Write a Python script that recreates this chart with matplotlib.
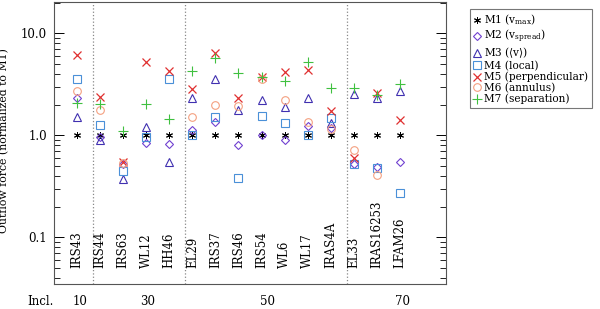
import numpy as np
import matplotlib as mpl
mpl.use('Agg')
import matplotlib.pyplot as plt
import matplotlib.transforms as mtransforms

#
#--- source names and inclination groups
#
sources = ['IRS43', 'IRS44', 'IRS63', 'WL12', 'HH46', 'EL29', 'IRS37', 'IRS46',
           'IRS54', 'WL6', 'WL17', 'IRAS4A', 'EL33', 'IRAS16253', 'LFAM26']
incl_labels = ['10', '30', '50', '70']
incl_pos    = [1.13, 4.08, 9.24, 15.13]
group_bounds = [1.68, 5.69, 12.69]

nan = np.nan
#
#--- outflow force normalized to M1
#
m1 = [1.0] * 15
m2 = [2.34, 0.96, 0.53, 0.84, 0.82, 1.14, 1.34, 0.80, 1.00, 0.91, 1.24, 1.19, 0.53, 0.49, 0.55]
m3 = [1.50, 0.90, 0.37, 1.20, 0.55, 2.34, 3.56, 1.77, 2.22, 1.91, 2.34, 1.33, 2.52, 2.31, 2.72]
m4 = [3.56, 1.26, 0.45, 0.97, 3.56, 1.02, 1.52, 0.38, 1.55, 1.31, 1.00, 1.49, 0.52, 0.48, 0.27]
m5 = [6.10, 2.39, 0.55, 5.27, 4.30, 2.83, 6.37, 2.31, 3.70, 4.20, 4.37, 1.73, 0.60, 2.58, 1.43]
m6 = [2.70, 1.77, 0.54, nan, nan, 1.52, 1.97, 1.94, 3.60, 2.22, 1.36, 1.15, 0.72, 0.41, nan]
m7 = [2.09, 2.03, 1.11, 2.03, 1.45, 4.27, 5.69, 4.11, 3.70, 3.40, 5.27, 2.89, 2.89, 2.50, 3.18]

labels = [r'M1 (v$_{\rm max}$)', r'M2 (v$_{\rm spread}$)', r'M3 ($\langle$v$\rangle$)',
          'M4 (local)', 'M5 (perpendicular)', 'M6 (annulus)', 'M7 (separation)']

plt.rcParams['font.family'] = 'DejaVu Serif'
plt.rcParams['mathtext.fontset'] = 'dejavuserif'
plt.rcParams['font.size'] = 8

fig = plt.figure(figsize=(6.0, 3.09), dpi=100)
ax = fig.add_axes([54/600, 1 - 284/309, 392/600, 282/309])

x = np.arange(1, len(sources) + 1)
#
#--- marker styles for each method
#
styles = [
    dict(marker=(6, 2, 0), color='black', ms=5, mew=0.7, mfc='none'),
    dict(marker='D', color='#7040d0', ms=4.0, mew=0.8, mfc='none'),
    dict(marker='^', color='#4030b0', ms=5.5, mew=0.8, mfc='none'),
    dict(marker='s', color='#4a90d8', ms=5.5, mew=0.8, mfc='none'),
    dict(marker='x', color='#e03030', ms=6, mew=0.9, mfc='none'),
    dict(marker='o', color='#f4a080', ms=5.5, mew=0.8, mfc='none'),
    dict(marker='+', color='#40c040', ms=7, mew=0.8, mfc='none'),
]

for data, st, lab in zip([m1, m2, m3, m4, m5, m6, m7], styles, labels):
    ax.plot(x, data, lw=0, label=lab, marker=st['marker'], color=st['color'],
            markersize=st['ms'], markeredgewidth=st['mew'], markerfacecolor=st['mfc'])

ax.set_yscale('log')
ax.set_xlim(0, 17)
ax.set_ylim(0.035, 20.3)

for xb in group_bounds:
    ax.axvline(xb, color='#888888', ls=':', lw=0.9)
#
#--- source names written inside the plot
#
for xi, name in zip(x, sources):
    ax.text(xi, 0.05, name, rotation=90, ha='center', va='bottom', fontsize=8.5)
#
#--- inclination labels below the axis
#
trans = mtransforms.blended_transform_factory(ax.transData, ax.transAxes)
ax.text(-0.6, -0.062, 'Incl.', transform=trans, ha='center', va='center', fontsize=8.5)
for xp, lab in zip(incl_pos, incl_labels):
    ax.text(xp, -0.062, lab, transform=trans, ha='center', va='center', fontsize=8.5)

ax.set_xticks([])
ax.set_yticks([0.1, 1.0, 10.0])
ax.set_yticklabels(['0.1', '1.0', '10.0'])
ax.tick_params(axis='y', which='major', direction='in', length=7, width=0.7,
               right=True, labelsize=8.5, pad=5)
ax.tick_params(axis='y', which='minor', direction='in', length=4, width=0.6, right=True)
ax.set_ylabel('Outflow force (normalized to M1)', fontsize=7.8)
ax.yaxis.set_label_coords(-0.115, 0.509)

for sp in ax.spines.values():
    sp.set_color('#555555')
    sp.set_linewidth(0.8)

leg = fig.legend(loc='upper left', bbox_to_anchor=(470/600, 1 - 9/309),
                 fontsize=7.6, frameon=True, fancybox=False, handlelength=0.7,
                 handletextpad=0.3, labelspacing=0.05, borderpad=0.35,
                 borderaxespad=0.0, numpoints=1)
leg.get_frame().set_edgecolor('#555555')
leg.get_frame().set_linewidth(0.8)

fig.savefig('out.png', dpi=100)
